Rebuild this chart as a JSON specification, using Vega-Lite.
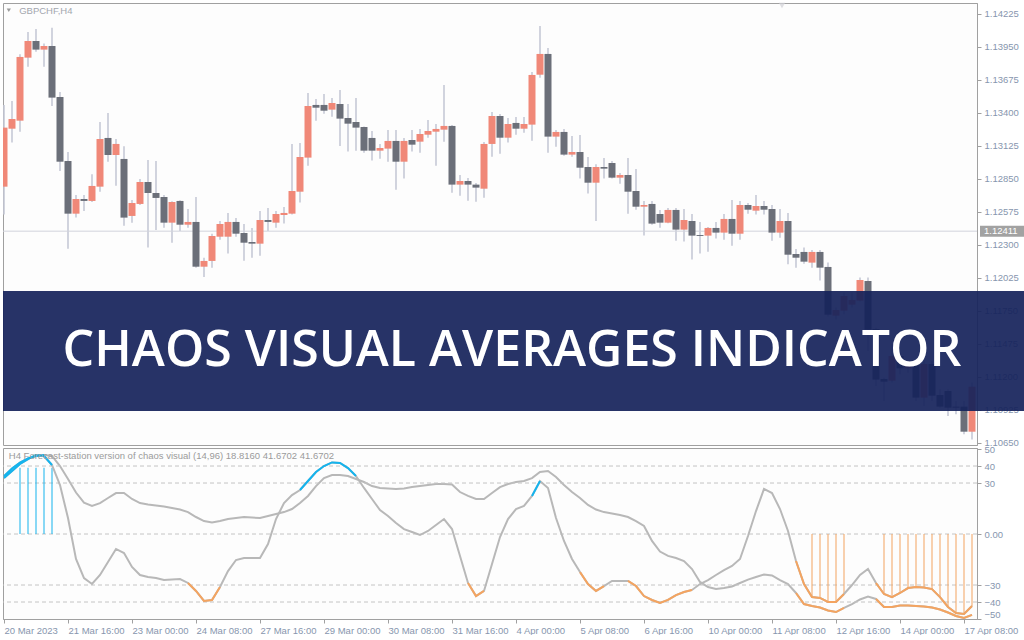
{
  "$schema": "https://vega.github.io/schema/vega-lite/v6.json",
  "padding": {"left": 2, "top": 2, "right": 0, "bottom": 0},
  "background": "#ffffff",
  "spacing": 3,
  "bounds": "flush",
  "config": {
    "view": {"stroke": "#a0a0a0", "fill": "#fdfdfd"},
    "scale": {"continuousPadding": 0},
    "axis": {"labelFont": "Liberation Sans", "labelFontSize": 9.5, "labelColor": "#8796ae", "tickColor": "#a0a0a0", "domainColor": "#a0a0a0", "grid": false, "tickSize": 4, "labelPadding": 3, "labelOverlap": false}
  },
  "datasets": {
    "candles": [
      {"i":0,"o":1.12782,"h":1.13463,"l":1.12551,"c":1.13274},
      {"i":1,"o":1.13265,"h":1.13496,"l":1.13149,"c":1.13346},
      {"i":2,"o":1.13332,"h":1.13885,"l":1.13240,"c":1.13863},
      {"i":3,"o":1.13857,"h":1.14071,"l":1.13782,"c":1.13996},
      {"i":4,"o":1.13996,"h":1.14096,"l":1.13907,"c":1.13924},
      {"i":5,"o":1.13924,"h":1.13974,"l":1.13782,"c":1.13954},
      {"i":6,"o":1.13954,"h":1.14107,"l":1.13454,"c":1.13524},
      {"i":7,"o":1.13529,"h":1.13571,"l":1.12913,"c":1.12990},
      {"i":8,"o":1.12996,"h":1.13071,"l":1.12265,"c":1.12557},
      {"i":9,"o":1.12557,"h":1.12713,"l":1.12524,"c":1.12679},
      {"i":10,"o":1.12679,"h":1.12713,"l":1.12579,"c":1.12663},
      {"i":11,"o":1.12663,"h":1.12885,"l":1.12655,"c":1.12788},
      {"i":12,"o":1.12782,"h":1.13321,"l":1.12740,"c":1.13179},
      {"i":13,"o":1.13188,"h":1.13396,"l":1.12990,"c":1.13046},
      {"i":14,"o":1.13046,"h":1.13179,"l":1.12790,"c":1.13138},
      {"i":15,"o":1.13013,"h":1.13118,"l":1.12457,"c":1.12524},
      {"i":16,"o":1.12538,"h":1.12671,"l":1.12482,"c":1.12646},
      {"i":17,"o":1.12638,"h":1.12846,"l":1.12629,"c":1.12821},
      {"i":18,"o":1.12821,"h":1.13004,"l":1.12274,"c":1.12729},
      {"i":19,"o":1.12729,"h":1.12996,"l":1.12421,"c":1.12688},
      {"i":20,"o":1.12696,"h":1.12713,"l":1.12440,"c":1.12482},
      {"i":21,"o":1.12482,"h":1.12660,"l":1.12315,"c":1.12654},
      {"i":22,"o":1.12663,"h":1.12668,"l":1.12413,"c":1.12465},
      {"i":23,"o":1.12465,"h":1.12596,"l":1.12440,"c":1.12488},
      {"i":24,"o":1.12488,"h":1.12696,"l":1.12107,"c":1.12115},
      {"i":25,"o":1.12115,"h":1.12190,"l":1.12029,"c":1.12163},
      {"i":26,"o":1.12163,"h":1.12390,"l":1.12107,"c":1.12371},
      {"i":27,"o":1.12365,"h":1.12496,"l":1.12340,"c":1.12471},
      {"i":28,"o":1.12365,"h":1.12563,"l":1.12224,"c":1.12488},
      {"i":29,"o":1.12488,"h":1.12521,"l":1.12365,"c":1.12390},
      {"i":30,"o":1.12396,"h":1.12471,"l":1.12165,"c":1.12315},
      {"i":31,"o":1.12321,"h":1.12438,"l":1.12190,"c":1.12307},
      {"i":32,"o":1.12307,"h":1.12579,"l":1.12207,"c":1.12504},
      {"i":33,"o":1.12504,"h":1.12604,"l":1.12413,"c":1.12488},
      {"i":34,"o":1.12482,"h":1.12579,"l":1.12440,"c":1.12554},
      {"i":35,"o":1.12546,"h":1.12613,"l":1.12474,"c":1.12563},
      {"i":36,"o":1.12557,"h":1.13138,"l":1.12549,"c":1.12746},
      {"i":37,"o":1.12740,"h":1.13146,"l":1.12649,"c":1.13029},
      {"i":38,"o":1.13024,"h":1.13563,"l":1.12957,"c":1.13454},
      {"i":39,"o":1.13463,"h":1.13513,"l":1.13332,"c":1.13440},
      {"i":40,"o":1.13463,"h":1.13554,"l":1.13390,"c":1.13415},
      {"i":41,"o":1.13424,"h":1.13521,"l":1.13365,"c":1.13479},
      {"i":42,"o":1.13471,"h":1.13588,"l":1.13121,"c":1.13349},
      {"i":43,"o":1.13354,"h":1.13471,"l":1.13074,"c":1.13307},
      {"i":44,"o":1.13321,"h":1.13521,"l":1.13082,"c":1.13274},
      {"i":45,"o":1.13279,"h":1.13284,"l":1.13065,"c":1.13082},
      {"i":46,"o":1.13188,"h":1.13246,"l":1.12999,"c":1.13082},
      {"i":47,"o":1.13082,"h":1.13138,"l":1.13015,"c":1.13104},
      {"i":48,"o":1.13099,"h":1.13254,"l":1.12990,"c":1.13163},
      {"i":49,"o":1.13163,"h":1.13254,"l":1.12757,"c":1.12990},
      {"i":50,"o":1.12990,"h":1.13188,"l":1.12849,"c":1.13163},
      {"i":51,"o":1.13171,"h":1.13254,"l":1.13074,"c":1.13132},
      {"i":52,"o":1.13157,"h":1.13263,"l":1.13065,"c":1.13221},
      {"i":53,"o":1.13215,"h":1.13338,"l":1.13190,"c":1.13246},
      {"i":54,"o":1.13240,"h":1.13304,"l":1.12957,"c":1.13263},
      {"i":55,"o":1.13257,"h":1.13629,"l":1.13157,"c":1.13288},
      {"i":56,"o":1.13288,"h":1.13296,"l":1.12732,"c":1.12799},
      {"i":57,"o":1.12799,"h":1.12879,"l":1.12707,"c":1.12829},
      {"i":58,"o":1.12829,"h":1.12854,"l":1.12665,"c":1.12799},
      {"i":59,"o":1.12799,"h":1.12813,"l":1.12657,"c":1.12774},
      {"i":60,"o":1.12765,"h":1.13154,"l":1.12690,"c":1.13138},
      {"i":61,"o":1.13138,"h":1.13404,"l":1.13032,"c":1.13371},
      {"i":62,"o":1.13371,"h":1.13388,"l":1.13057,"c":1.13190},
      {"i":63,"o":1.13190,"h":1.13354,"l":1.13149,"c":1.13304},
      {"i":64,"o":1.13313,"h":1.13363,"l":1.13215,"c":1.13265},
      {"i":65,"o":1.13265,"h":1.13363,"l":1.13232,"c":1.13304},
      {"i":66,"o":1.13299,"h":1.13738,"l":1.13165,"c":1.13713},
      {"i":67,"o":1.13715,"h":1.14121,"l":1.13690,"c":1.13888},
      {"i":68,"o":1.13888,"h":1.13938,"l":1.13065,"c":1.13199},
      {"i":69,"o":1.13199,"h":1.13254,"l":1.13115,"c":1.13238},
      {"i":70,"o":1.13238,"h":1.13263,"l":1.13040,"c":1.13049},
      {"i":71,"o":1.13049,"h":1.13204,"l":1.13032,"c":1.13071},
      {"i":72,"o":1.13071,"h":1.13213,"l":1.12849,"c":1.12940},
      {"i":73,"o":1.12946,"h":1.13029,"l":1.12724,"c":1.12815},
      {"i":74,"o":1.12815,"h":1.12968,"l":1.12496,"c":1.12946},
      {"i":75,"o":1.12946,"h":1.13021,"l":1.12849,"c":1.12932},
      {"i":76,"o":1.12979,"h":1.12996,"l":1.12849,"c":1.12857},
      {"i":77,"o":1.12857,"h":1.12896,"l":1.12807,"c":1.12879},
      {"i":78,"o":1.12879,"h":1.13021,"l":1.12557,"c":1.12740},
      {"i":79,"o":1.12746,"h":1.12929,"l":1.12590,"c":1.12615},
      {"i":80,"o":1.12615,"h":1.12663,"l":1.12374,"c":1.12629},
      {"i":81,"o":1.12638,"h":1.12663,"l":1.12465,"c":1.12474},
      {"i":82,"o":1.12554,"h":1.12588,"l":1.12440,"c":1.12482},
      {"i":83,"o":1.12482,"h":1.12604,"l":1.12478,"c":1.12588},
      {"i":84,"o":1.12588,"h":1.12604,"l":1.12332,"c":1.12424},
      {"i":85,"o":1.12424,"h":1.12596,"l":1.12324,"c":1.12504},
      {"i":86,"o":1.12496,"h":1.12554,"l":1.12174,"c":1.12374},
      {"i":87,"o":1.12379,"h":1.12488,"l":1.12224,"c":1.12371},
      {"i":88,"o":1.12374,"h":1.12446,"l":1.12240,"c":1.12438},
      {"i":89,"o":1.12438,"h":1.12488,"l":1.12349,"c":1.12399},
      {"i":90,"o":1.12399,"h":1.12554,"l":1.12340,"c":1.12513},
      {"i":91,"o":1.12513,"h":1.12671,"l":1.12290,"c":1.12390},
      {"i":92,"o":1.12390,"h":1.12663,"l":1.12340,"c":1.12629},
      {"i":93,"o":1.12629,"h":1.12646,"l":1.12557,"c":1.12590},
      {"i":94,"o":1.12582,"h":1.12713,"l":1.12549,"c":1.12621},
      {"i":95,"o":1.12621,"h":1.12663,"l":1.12549,"c":1.12590},
      {"i":96,"o":1.12596,"h":1.12629,"l":1.12332,"c":1.12399},
      {"i":97,"o":1.12399,"h":1.12596,"l":1.12357,"c":1.12496},
      {"i":98,"o":1.12496,"h":1.12563,"l":1.12135,"c":1.12215},
      {"i":99,"o":1.12221,"h":1.12263,"l":1.12107,"c":1.12190},
      {"i":100,"o":1.12238,"h":1.12274,"l":1.12140,"c":1.12157},
      {"i":101,"o":1.12149,"h":1.12254,"l":1.12107,"c":1.12238},
      {"i":102,"o":1.12238,"h":1.12254,"l":1.11999,"c":1.12107},
      {"i":103,"o":1.12113,"h":1.12149,"l":1.11699,"c":1.11715},
      {"i":104,"o":1.11707,"h":1.11774,"l":1.11676,"c":1.11754},
      {"i":105,"o":1.11749,"h":1.11899,"l":1.11718,"c":1.11871},
      {"i":106,"o":1.11799,"h":1.11899,"l":1.11774,"c":1.11838},
      {"i":107,"o":1.11832,"h":1.12024,"l":1.11824,"c":1.12004},
      {"i":108,"o":1.11996,"h":1.12024,"l":1.11413,"c":1.11590},
      {"i":109,"o":1.11596,"h":1.11607,"l":1.11121,"c":1.11174},
      {"i":110,"o":1.11179,"h":1.11190,"l":1.10996,"c":1.11157},
      {"i":111,"o":1.11165,"h":1.11468,"l":1.11149,"c":1.11371},
      {"i":112,"o":1.11371,"h":1.11399,"l":1.11218,"c":1.11268},
      {"i":113,"o":1.11268,"h":1.11329,"l":1.11232,"c":1.11304},
      {"i":114,"o":1.11304,"h":1.11329,"l":1.10996,"c":1.11024},
      {"i":115,"o":1.11024,"h":1.11329,"l":1.10954,"c":1.11304},
      {"i":116,"o":1.11304,"h":1.11329,"l":1.10996,"c":1.11040},
      {"i":117,"o":1.11046,"h":1.11093,"l":1.10940,"c":1.10949},
      {"i":118,"o":1.11079,"h":1.11093,"l":1.10871,"c":1.10940},
      {"i":119,"o":1.10949,"h":1.10996,"l":1.10885,"c":1.10940},
      {"i":120,"o":1.10949,"h":1.10996,"l":1.10718,"c":1.10740},
      {"i":121,"o":1.10740,"h":1.11149,"l":1.10676,"c":1.11115}
    ],
    "ind": [
      {"i":0,"f":32.9,"s":34.0},{"i":1,"f":37.1,"s":38.5},{"i":2,"f":41.2,"s":42.0},{"i":3,"f":44.1,"s":44.5},
      {"i":4,"f":46.5,"s":45.9},{"i":5,"f":45.9,"s":46.5},{"i":6,"f":40.6,"s":45.9},{"i":7,"f":28.8,"s":40.0},
      {"i":8,"f":9.4,"s":32.4},{"i":9,"f":-14.7,"s":24.4},{"i":10,"f":-25.9,"s":18.5},{"i":11,"f":-29.4,"s":16.5},
      {"i":12,"f":-24.1,"s":18.2},{"i":13,"f":-16.5,"s":21.2},{"i":14,"f":-8.8,"s":24.1},{"i":15,"f":-11.2,"s":24.1},
      {"i":16,"f":-19.4,"s":20.6},{"i":17,"f":-24.1,"s":18.2},{"i":18,"f":-25.3,"s":17.4},{"i":19,"f":-25.9,"s":16.8},
      {"i":20,"f":-27.1,"s":16.2},{"i":21,"f":-26.8,"s":15.3},{"i":22,"f":-26.5,"s":14.4},{"i":23,"f":-28.8,"s":12.9},
      {"i":24,"f":-33.5,"s":10.0},{"i":25,"f":-39.4,"s":7.6},{"i":26,"f":-38.8,"s":6.8},{"i":27,"f":-31.2,"s":7.6},
      {"i":28,"f":-21.8,"s":8.8},{"i":29,"f":-15.3,"s":9.4},{"i":30,"f":-14.1,"s":10.0},{"i":31,"f":-14.1,"s":9.7},
      {"i":32,"f":-14.1,"s":9.4},{"i":33,"f":-5.9,"s":10.6},{"i":34,"f":8.8,"s":11.8},{"i":35,"f":18.2,"s":12.9},
      {"i":36,"f":22.9,"s":14.7},{"i":37,"f":25.9,"s":18.2},{"i":38,"f":31.2,"s":22.4},{"i":39,"f":36.5,"s":28.2},
      {"i":40,"f":40.0,"s":32.9},{"i":41,"f":42.1,"s":34.7},{"i":42,"f":41.8,"s":34.7},{"i":43,"f":38.8,"s":34.1},
      {"i":44,"f":34.1,"s":32.4},{"i":45,"f":27.1,"s":30.6},{"i":46,"f":20.6,"s":28.2},{"i":47,"f":14.1,"s":27.1},
      {"i":48,"f":10.6,"s":26.8},{"i":49,"f":6.5,"s":26.5},{"i":50,"f":2.9,"s":26.8},{"i":51,"f":1.2,"s":27.6},
      {"i":52,"f":-0.6,"s":28.2},{"i":53,"f":1.8,"s":28.8},{"i":54,"f":5.3,"s":29.4},{"i":55,"f":8.8,"s":29.4},
      {"i":56,"f":2.9,"s":29.1},{"i":57,"f":-12.9,"s":24.7},{"i":58,"f":-28.8,"s":22.4},{"i":59,"f":-36.5,"s":20.6},
      {"i":60,"f":-33.5,"s":20.6},{"i":61,"f":-17.6,"s":24.1},{"i":62,"f":-1.8,"s":27.6},{"i":63,"f":8.8,"s":29.4},
      {"i":64,"f":14.7,"s":30.6},{"i":65,"f":16.5,"s":31.2},{"i":66,"f":22.4,"s":32.9},{"i":67,"f":31.2,"s":36.5},
      {"i":68,"f":27.1,"s":37.1},{"i":69,"f":9.4,"s":33.5},{"i":70,"f":-4.1,"s":28.8},{"i":71,"f":-14.7,"s":24.7},
      {"i":72,"f":-22.4,"s":21.2},{"i":73,"f":-29.4,"s":17.1},{"i":74,"f":-33.5,"s":14.4},{"i":75,"f":-30.6,"s":12.9},
      {"i":76,"f":-27.6,"s":12.1},{"i":77,"f":-27.6,"s":11.2},{"i":78,"f":-27.6,"s":10.0},{"i":79,"f":-30.6,"s":7.6},
      {"i":80,"f":-36.5,"s":4.7},{"i":81,"f":-38.8,"s":-4.1},{"i":82,"f":-40.6,"s":-10.3},{"i":83,"f":-38.8,"s":-12.9},
      {"i":84,"f":-35.9,"s":-14.1},{"i":85,"f":-34.1,"s":-15.9},{"i":86,"f":-32.9,"s":-20.6},{"i":87,"f":-29.4,"s":-28.2},
      {"i":88,"f":-27.1,"s":-31.2},{"i":89,"f":-24.1,"s":-32.4},{"i":90,"f":-21.2,"s":-31.8},{"i":91,"f":-18.8,"s":-30.9},
      {"i":92,"f":-14.7,"s":-28.8},{"i":93,"f":-1.2,"s":-26.8},{"i":94,"f":13.5,"s":-25.3},{"i":95,"f":26.5,"s":-23.8},
      {"i":96,"f":24.1,"s":-24.4},{"i":97,"f":14.7,"s":-27.1},{"i":98,"f":1.8,"s":-29.4},{"i":99,"f":-15.9,"s":-34.7},
      {"i":100,"f":-29.4,"s":-41.2},{"i":101,"f":-37.1,"s":-42.4},{"i":102,"f":-37.6,"s":-43.2},{"i":103,"f":-40.0,"s":-45.0},
      {"i":104,"f":-40.0,"s":-45.9},{"i":105,"f":-35.3,"s":-43.5},{"i":106,"f":-30.0,"s":-41.2},{"i":107,"f":-24.1,"s":-38.5},
      {"i":108,"f":-20.6,"s":-36.8},{"i":109,"f":-28.8,"s":-38.2},{"i":110,"f":-35.3,"s":-42.9},{"i":111,"f":-37.1,"s":-42.9},
      {"i":112,"f":-34.7,"s":-42.1},{"i":113,"f":-31.8,"s":-42.1},{"i":114,"f":-31.2,"s":-42.4},{"i":115,"f":-31.5,"s":-42.6},
      {"i":116,"f":-32.4,"s":-43.2},{"i":117,"f":-37.1,"s":-44.4},{"i":118,"f":-42.9,"s":-46.2},{"i":119,"f":-46.5,"s":-48.2},
      {"i":120,"f":-47.1,"s":-49.4},{"i":121,"f":-42.4,"s":-47.6}
    ],
    "hl": [
      {"i":0,"v":34.0,"seg":"b0","col":"b"},{"i":1,"v":38.5,"seg":"b0","col":"b"},{"i":2,"v":42.0,"seg":"b0","col":"b"},{"i":3,"v":44.5,"seg":"b0","col":"b"},{"i":4,"v":45.9,"seg":"b0","col":"b"},{"i":5,"v":46.5,"seg":"b0","col":"b"},
      {"i":0,"v":32.9,"seg":"b1","col":"b"},{"i":1,"v":37.1,"seg":"b1","col":"b"},{"i":2,"v":41.2,"seg":"b1","col":"b"},{"i":3,"v":44.1,"seg":"b1","col":"b"},{"i":4,"v":46.5,"seg":"b1","col":"b"},{"i":5,"v":45.9,"seg":"b1","col":"b"},{"i":6,"v":40.6,"seg":"b1","col":"b"},
      {"i":37,"v":25.9,"seg":"b2","col":"b"},{"i":38,"v":31.2,"seg":"b2","col":"b"},{"i":39,"v":36.5,"seg":"b2","col":"b"},{"i":40,"v":40.0,"seg":"b2","col":"b"},{"i":41,"v":42.1,"seg":"b2","col":"b"},{"i":42,"v":41.8,"seg":"b2","col":"b"},{"i":43,"v":38.8,"seg":"b2","col":"b"},{"i":44,"v":34.1,"seg":"b2","col":"b"},
      {"i":66,"v":22.4,"seg":"b3","col":"b"},{"i":67,"v":31.2,"seg":"b3","col":"b"},
      {"i":23,"v":-28.8,"seg":"o1","col":"o"},{"i":24,"v":-33.5,"seg":"o1","col":"o"},{"i":25,"v":-39.4,"seg":"o1","col":"o"},{"i":26,"v":-38.8,"seg":"o1","col":"o"},{"i":27,"v":-31.2,"seg":"o1","col":"o"},
      {"i":58,"v":-28.8,"seg":"o2","col":"o"},{"i":59,"v":-36.5,"seg":"o2","col":"o"},{"i":60,"v":-33.5,"seg":"o2","col":"o"},
      {"i":72,"v":-22.4,"seg":"o3","col":"o"},{"i":73,"v":-29.4,"seg":"o3","col":"o"},{"i":74,"v":-33.5,"seg":"o3","col":"o"},{"i":75,"v":-30.6,"seg":"o3","col":"o"},
      {"i":78,"v":-27.6,"seg":"o4","col":"o"},{"i":79,"v":-30.6,"seg":"o4","col":"o"},{"i":80,"v":-36.5,"seg":"o4","col":"o"},{"i":81,"v":-38.8,"seg":"o4","col":"o"},{"i":82,"v":-40.6,"seg":"o4","col":"o"},{"i":83,"v":-38.8,"seg":"o4","col":"o"},{"i":84,"v":-35.9,"seg":"o4","col":"o"},{"i":85,"v":-34.1,"seg":"o4","col":"o"},{"i":86,"v":-32.9,"seg":"o4","col":"o"},
      {"i":99,"v":-15.9,"seg":"o5","col":"o"},{"i":100,"v":-29.4,"seg":"o5","col":"o"},{"i":101,"v":-37.1,"seg":"o5","col":"o"},{"i":102,"v":-37.6,"seg":"o5","col":"o"},{"i":103,"v":-40.0,"seg":"o5","col":"o"},{"i":104,"v":-40.0,"seg":"o5","col":"o"},{"i":105,"v":-35.3,"seg":"o5","col":"o"},
      {"i":109,"v":-28.8,"seg":"o6","col":"o"},{"i":110,"v":-35.3,"seg":"o6","col":"o"},{"i":111,"v":-37.1,"seg":"o6","col":"o"},{"i":112,"v":-34.7,"seg":"o6","col":"o"},{"i":113,"v":-31.8,"seg":"o6","col":"o"},{"i":114,"v":-31.2,"seg":"o6","col":"o"},{"i":115,"v":-31.5,"seg":"o6","col":"o"},{"i":116,"v":-32.4,"seg":"o6","col":"o"},{"i":117,"v":-37.1,"seg":"o6","col":"o"},{"i":118,"v":-42.9,"seg":"o6","col":"o"},{"i":119,"v":-46.5,"seg":"o6","col":"o"},{"i":120,"v":-47.1,"seg":"o6","col":"o"},{"i":121,"v":-42.4,"seg":"o6","col":"o"},
      {"i":99,"v":-34.7,"seg":"o7","col":"o"},{"i":100,"v":-41.2,"seg":"o7","col":"o"},{"i":101,"v":-42.4,"seg":"o7","col":"o"},{"i":102,"v":-43.2,"seg":"o7","col":"o"},{"i":103,"v":-45.0,"seg":"o7","col":"o"},{"i":104,"v":-45.9,"seg":"o7","col":"o"},{"i":105,"v":-43.5,"seg":"o7","col":"o"},
      {"i":109,"v":-38.2,"seg":"o8","col":"o"},{"i":110,"v":-42.9,"seg":"o8","col":"o"},{"i":111,"v":-42.9,"seg":"o8","col":"o"},{"i":112,"v":-42.1,"seg":"o8","col":"o"},{"i":113,"v":-42.1,"seg":"o8","col":"o"},{"i":114,"v":-42.4,"seg":"o8","col":"o"},{"i":115,"v":-42.6,"seg":"o8","col":"o"},{"i":116,"v":-43.2,"seg":"o8","col":"o"},{"i":117,"v":-44.4,"seg":"o8","col":"o"},{"i":118,"v":-46.2,"seg":"o8","col":"o"},{"i":119,"v":-48.2,"seg":"o8","col":"o"},{"i":120,"v":-49.4,"seg":"o8","col":"o"},{"i":121,"v":-47.6,"seg":"o8","col":"o"}
    ],
    "hist": [
      {"i":2,"h":39,"col":"b"},{"i":3,"h":39,"col":"b"},{"i":4,"h":39,"col":"b"},{"i":5,"h":39,"col":"b"},{"i":6,"h":39,"col":"b"},
      {"i":101,"h":-37.1,"col":"o"},{"i":102,"h":-37.6,"col":"o"},{"i":103,"h":-40.0,"col":"o"},{"i":104,"h":-40.0,"col":"o"},{"i":105,"h":-35.3,"col":"o"},
      {"i":110,"h":-35.3,"col":"o"},{"i":111,"h":-37.1,"col":"o"},{"i":112,"h":-34.7,"col":"o"},{"i":113,"h":-31.8,"col":"o"},{"i":114,"h":-31.2,"col":"o"},{"i":115,"h":-31.5,"col":"o"},
      {"i":116,"h":-32.4,"col":"o"},{"i":117,"h":-37.1,"col":"o"},{"i":118,"h":-42.9,"col":"o"},{"i":119,"h":-46.5,"col":"o"},{"i":120,"h":-47.1,"col":"o"},{"i":121,"h":-42.4,"col":"o"}
    ],
    "levels": [{"lv":40},{"lv":30},{"lv":0},{"lv":-30},{"lv":-40}],
    "one": [{"k":1}]
  },
  "vconcat": [
    {
      "width": 974,
      "height": 442,
      "layer": [
        {"data": {"name": "candles"}, "mark": {"type": "rule", "color": "#c6c9d6", "strokeWidth": 1.6, "clip": true},
         "encoding": {
           "x": {"field": "i", "type": "quantitative", "scale": {"domain": [-0.125, 121.625], "nice": false, "zero": false, "padding": 0}, "axis": null},
           "y": {"field": "l", "type": "quantitative", "scale": {"domain": [1.106292, 1.143125], "nice": false, "zero": false, "padding": 0},
                 "axis": {"orient": "right", "format": ".5f", "title": null, "tickCount": 100, "labelOverlap": false, "values": [1.1065,1.10925,1.112,1.11475,1.1175,1.12025,1.123,1.12575,1.1285,1.13125,1.134,1.13675,1.1395,1.14225]}},
           "y2": {"field": "h"}}},
        {"data": {"name": "one"}, "mark": {"type": "rule", "color": "#d2d3dc", "strokeWidth": 1},
         "encoding": {"y": {"datum": 1.12411, "type": "quantitative"}}},
        {"data": {"name": "candles"}, "mark": {"type": "bar", "size": 7, "clip": true},
         "encoding": {"x": {"field": "i", "type": "quantitative", "axis": null}, "y": {"field": "o", "type": "quantitative"}, "y2": {"field": "c"},
                      "color": {"condition": {"test": "datum.c >= datum.o", "value": "#f08878"}, "value": "#6b6f79"}}},
        {"data": {"name": "one"}, "mark": {"type": "tick", "orient": "horizontal", "color": "#15225a", "size": 1022, "thickness": 120, "opacity": 0.92},
         "encoding": {"x": {"datum": 63.75, "type": "quantitative", "axis": null}, "y": {"datum": 1.114125, "type": "quantitative"}}},
        {"data": {"name": "one"}, "mark": {"type": "text", "font": "Open Sans", "fontWeight": 600, "fontSize": 50, "color": "#ffffff", "align": "center", "baseline": "middle"},
         "encoding": {"x": {"datum": 63.5, "type": "quantitative", "axis": null}, "y": {"datum": 1.114125, "type": "quantitative"}, "text": {"value": "CHAOS VISUAL AVERAGES INDICATOR"}}},
        {"data": {"name": "one"}, "mark": {"type": "tick", "orient": "horizontal", "color": "#a2a2a2", "size": 44, "thickness": 11, "opacity": 1},
         "encoding": {"x": {"datum": 124.75, "type": "quantitative", "axis": null}, "y": {"datum": 1.12411, "type": "quantitative"}}},
        {"data": {"name": "one"}, "mark": {"type": "text", "font": "Liberation Sans", "fontSize": 9.5, "color": "#ffffff", "align": "left", "baseline": "middle"},
         "encoding": {"x": {"datum": 122.5, "type": "quantitative", "axis": null}, "y": {"datum": 1.12411, "type": "quantitative"}, "text": {"value": "1.12411"}}},
        {"data": {"name": "one"}, "mark": {"type": "text", "font": "Liberation Sans", "fontSize": 9.5, "color": "#a3a6ae", "align": "left", "baseline": "middle"},
         "encoding": {"x": {"datum": 1.9, "type": "quantitative", "axis": null}, "y": {"datum": 1.14246, "type": "quantitative"}, "text": {"value": "GBPCHF,H4"}}},
        {"data": {"name": "one"}, "mark": {"type": "point", "shape": "triangle-down", "filled": true, "size": 18, "color": "#707070"},
         "encoding": {"x": {"datum": 0.6, "type": "quantitative", "axis": null}, "y": {"datum": 1.14252, "type": "quantitative"}}},
        {"data": {"name": "one"}, "mark": {"type": "point", "shape": "triangle-down", "filled": true, "size": 40, "color": "#d0d0d6"},
         "encoding": {"x": {"datum": 97.25, "type": "quantitative", "axis": null}, "y": {"datum": 1.14292, "type": "quantitative"}}}
      ]
    },
    {
      "width": 974,
      "height": 171,
      "layer": [
        {"data": {"name": "ind"}, "mark": {"type": "line", "color": "#b8b8b8", "strokeWidth": 2, "clip": true},
         "encoding": {
           "x": {"field": "i", "type": "quantitative", "scale": {"domain": [-0.125, 121.625], "nice": false, "zero": false, "padding": 0},
                 "axis": {"title": null, "tickCount": 100, "values": [0,8,16,24,32,40,48,56,64,72,80,88,96,104,112,120], "labelAlign": "left", "labelBaseline": "top", "labelPadding": 2, "labelFlush": false, "labelOverlap": false, "labelBound": false,
                          "labelExpr": "['20 Mar 2023','21 Mar 16:00','23 Mar 00:00','24 Mar 08:00','27 Mar 16:00','29 Mar 00:00','30 Mar 08:00','31 Mar 16:00','4 Apr 00:00','5 Apr 08:00','6 Apr 16:00','10 Apr 00:00','11 Apr 08:00','12 Apr 16:00','14 Apr 00:00','17 Apr 08:00'][round(datum.value/8)]"}},
           "y": {"field": "s", "type": "quantitative", "scale": {"domain": [-50, 50.6], "nice": false, "zero": false, "padding": 0},
                 "axis": {"orient": "right", "title": null, "tickCount": 100, "values": [50,40,30,0,-30,-40,-50], "labelFlush": true, "labelOverlap": false, "labelExpr": "datum.value == 0 ? '0.00' : datum.label"}}}},
        {"data": {"name": "levels"}, "mark": {"type": "rule", "color": "#c4c4c4", "strokeDash": [4, 3], "strokeWidth": 1},
         "encoding": {"y": {"field": "lv", "type": "quantitative"}}},
        {"data": {"name": "hist"}, "mark": {"type": "bar", "size": 1},
         "encoding": {"x": {"field": "i", "type": "quantitative"}, "y": {"field": "h", "type": "quantitative"},
                      "color": {"field": "col", "type": "nominal", "scale": {"domain": ["b", "o"], "range": ["#14b4ee", "#f4a460"]}, "legend": null}}},
        {"data": {"name": "ind"}, "mark": {"type": "line", "color": "#b8b8b8", "strokeWidth": 2, "clip": true},
         "encoding": {"x": {"field": "i", "type": "quantitative"}, "y": {"field": "f", "type": "quantitative"}}},
        {"data": {"name": "hl"}, "mark": {"type": "line", "strokeWidth": 2, "clip": true},
         "encoding": {"x": {"field": "i", "type": "quantitative"}, "y": {"field": "v", "type": "quantitative"}, "detail": {"field": "seg", "type": "nominal"},
                      "color": {"field": "col", "type": "nominal", "scale": {"domain": ["b", "o"], "range": ["#14b4ee", "#f4a460"]}, "legend": null}}},
        {"data": {"name": "one"}, "mark": {"type": "text", "font": "Liberation Sans", "fontSize": 9.5, "color": "#9b9b9b", "align": "left", "baseline": "middle"},
         "encoding": {"x": {"datum": 0.6, "type": "quantitative"}, "y": {"datum": 45.9, "type": "quantitative"}, "text": {"value": "H4 Forecast-station version of chaos visual (14,96) 18.8160 41.6702 41.6702"}}}
      ]
    }
  ]
}
